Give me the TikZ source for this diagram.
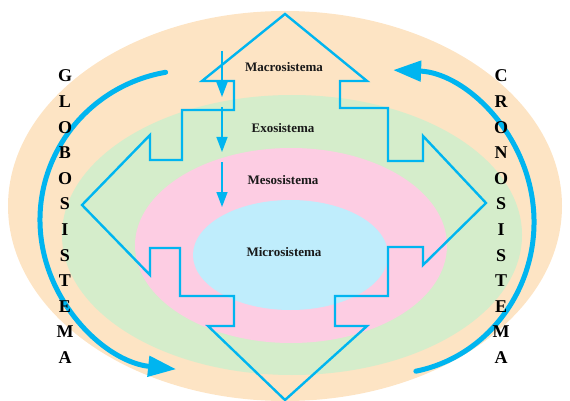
\documentclass[tikz,border=0pt]{standalone}
\usepackage{fontspec}
\setmainfont{Liberation Serif}
\usetikzlibrary{arrows.meta}

\definecolor{macrofill}{HTML}{FDE4C4}
\definecolor{exofill}{HTML}{D5EDCB}
\definecolor{mesofill}{HTML}{FDCDE3}
\definecolor{microfill}{HTML}{BFEDFC}
\definecolor{linecyan}{HTML}{00B5F0}

\begin{document}
\begin{tikzpicture}[x=1pt, y=-1pt]
\tikzset{level label/.style={font=\fontsize{13}{15}\selectfont\bfseries, text=black!90}}
\tikzset{letter/.style={font=\fontsize{18}{20}\selectfont\bfseries, inner sep=0pt}}
\tikzset{outline/.style={draw=linecyan, line width=2.4pt, line join=miter}}
\tikzset{bigarrow/.style={draw=linecyan, line width=5pt, line cap=round,
  -{Triangle[length=28pt, width=20pt]}}}
\tikzset{downarrow/.style={draw=linecyan, line width=1.4pt,
  -{Triangle[length=15pt, width=11pt]}}}
\useasboundingbox (0,0) rectangle (570,401);
%\clip (0,0) rectangle (570,401);
\fill[macrofill] (285,206) ellipse[x radius=277, y radius=195];
\fill[exofill] (292,235) ellipse[x radius=230, y radius=140];
\fill[mesofill] (291,245.5) ellipse[x radius=156, y radius=97.5];
\fill[microfill] (290.5,255) ellipse[x radius=97.5, y radius=55];
\draw[outline] (285,14) -- (367,81) -- (340,81) -- (340,108) -- (388,108)
  -- (388,161) -- (423,161) -- (423,136) -- (486,203) -- (423,265)
  -- (423,247) -- (388,247) -- (388,296) -- (335,296) -- (335,326)
  -- (367,326) -- (285,400) -- (208,326) -- (234,326) -- (234,296)
  -- (180,296) -- (180,248) -- (150,248) -- (150,275) -- (82,205)
  -- (150,135) -- (150,160) -- (182,160) -- (182,110) -- (234,110)
  -- (234,81) -- (202,81) -- cycle;
\foreach \ya/\yb in {51/97, 107/152, 162/207}
  \draw[downarrow] (222,\ya) -- (222,\yb);
\draw[bigarrow] (192,220) ++(260:152 and 150)
  arc[start angle=260, end angle=96, x radius=152, y radius=150];
\draw[bigarrow] (388,222) ++(79:146 and 152)
  arc[start angle=79, end angle=-88, x radius=146, y radius=152];
\node[level label] (macro) at (284,67) {Macrosistema};
\node[level label] (exo) at (283,128) {Exosistema};
\node[level label] (meso) at (283,180) {Mesosistema};
\node[level label] (micro) at (284,252) {Microsistema};
\foreach \l [count=\i] in {G,L,O,B,O,S,I,S,T,E,M,A}
  \node[letter] (glo\i) at (65,{76+25.6*(\i-1)}) {\l};
\foreach \l [count=\i] in {C,R,O,N,O,S,I,S,T,E,M,A}
  \node[letter] (cro\i) at (501,{76+25.6*(\i-1)}) {\l};
\end{tikzpicture}
\end{document}
